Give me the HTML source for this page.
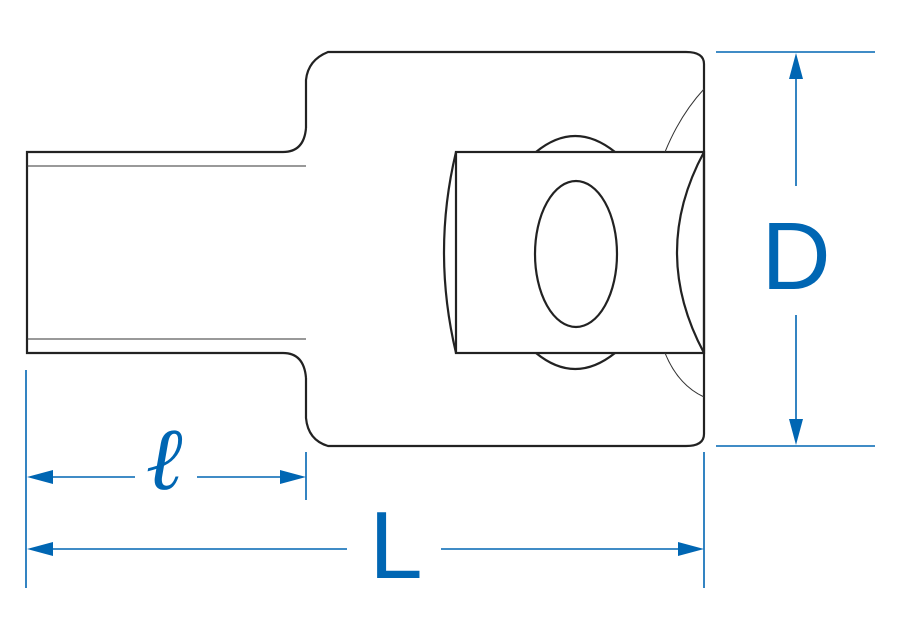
<!DOCTYPE html>
<html><head><style>html,body{margin:0;padding:0;background:#fff}svg{display:block}</style></head>
<body>
<svg width="900" height="640" viewBox="0 0 900 640" xmlns="http://www.w3.org/2000/svg">
<g fill="none" stroke="#222" stroke-width="2.2">
<path d="M306,128 L306,80 Q308,60 328,52 L686,52 Q704,52 704,64 L704,434 Q704,446 686,446 L328,446 Q308,440 306,418 L306,378"/>
<path d="M306,128 Q304,152 283,152 L27,152 L27,353 L283,353 Q304,353 306,378"/>
<rect x="456" y="152" width="248" height="201"/>
<path d="M456,152 Q432,252 456,353"/>
<path d="M704,152 Q650,252 704,353"/>
<ellipse cx="576" cy="254" rx="41" ry="73"/>
<path d="M536,152 Q575,120 615,152"/>
<path d="M536,353 Q575,385 615,353"/>
</g>
<g fill="none" stroke="#333" stroke-width="1">
<line x1="27" y1="166" x2="306" y2="166"/>
<line x1="27" y1="339" x2="306" y2="339"/>
<path d="M704,89 Q680,115 665,152"/>
<path d="M665,353 Q678,385 704,397"/>
</g>
<g stroke="#0066b3" stroke-width="1.6" fill="none">
<line x1="26" y1="370" x2="26" y2="588"/>
<line x1="306" y1="452" x2="306" y2="500"/>
<line x1="704" y1="452" x2="704" y2="588"/>
<line x1="716" y1="52" x2="875" y2="52"/>
<line x1="716" y1="446" x2="875" y2="446"/>
<line x1="40" y1="477" x2="135" y2="477"/>
<line x1="197" y1="477" x2="292" y2="477"/>
<line x1="40" y1="549" x2="347" y2="549"/>
<line x1="441" y1="549" x2="690" y2="549"/>
<line x1="796" y1="66" x2="796" y2="186"/>
<line x1="796" y1="315" x2="796" y2="432"/>
</g>
<g fill="#0066b3">
<polygon points="27,477 53,470 53,484"/>
<polygon points="306,477 280,470 280,484"/>
<polygon points="27,549 53,542 53,556"/>
<polygon points="704,549 678,542 678,556"/>
<polygon points="796,53 789,79 803,79"/>
<polygon points="796,445 789,419 803,419"/>
</g>
<g fill="#0066b3" font-family="Liberation Sans, sans-serif">
<text x="796" y="289" font-size="96" text-anchor="middle">D</text>
<text x="396" y="578" font-size="96" text-anchor="middle">L</text>
<text x="166" y="489" font-size="88" font-style="italic" font-family="DejaVu Serif, serif" text-anchor="middle" font-weight="bold">ℓ</text>
</g>
</svg>
</body></html>
